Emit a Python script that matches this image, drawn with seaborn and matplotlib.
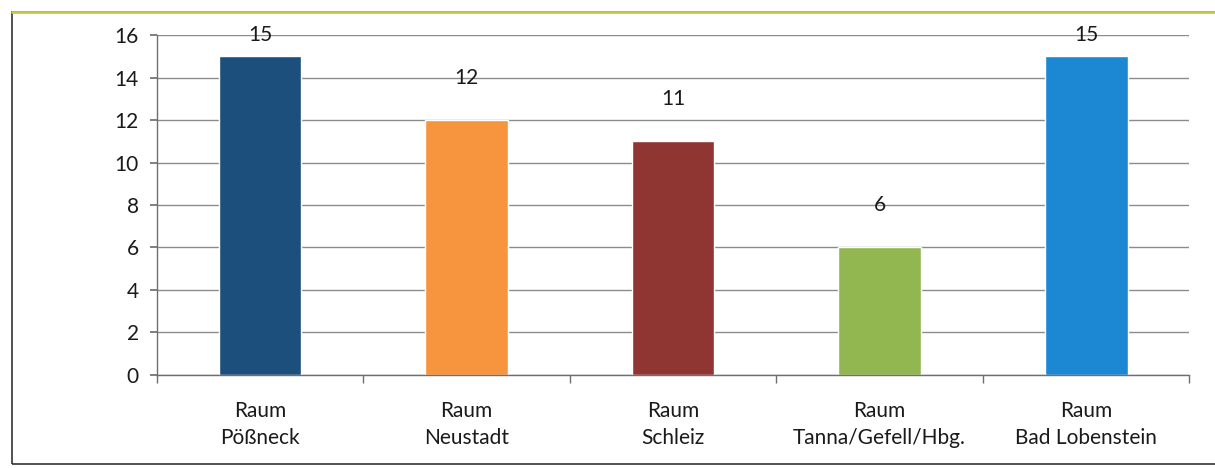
import pandas as pd
import matplotlib.pyplot as plt
import seaborn as sns
from matplotlib.patches import Rectangle

regions = ["Raum\nPößneck", "Raum\nNeustadt", "Raum\nSchleiz",
           "Raum\nTanna/Gefell/Hbg.", "Raum\nBad Lobenstein"]
counts = [15, 12, 11, 6, 15]
colors = ["#1d4f7d", "#f7953f", "#8f3633", "#92b650", "#1c88d4"]

df = pd.DataFrame({"region": regions, "count": counts})

sns.set_theme(style="white")
plt.rcParams["font.family"] = ["Lato", "DejaVu Sans"]

fig = plt.figure(figsize=(12.15, 4.68), dpi=100)
ax = fig.add_axes([0.129, 0.199, 0.850, 0.726])

sns.barplot(data=df, x="region", y="count", hue="region", palette=colors,
            width=0.4, legend=False, ax=ax, saturation=1)

ax.set_ylim(0, 16)
ax.set_xlim(-0.5, len(regions) - 0.5)
ax.set_yticks(range(0, 17, 2))
ax.grid(axis="y", color="#8c8c8c", linewidth=1)
ax.set_axisbelow(True)
ax.set_xlabel("")
ax.set_ylabel("")

for s in ["top", "right"]:
    ax.spines[s].set_visible(False)
for s in ["left", "bottom"]:
    ax.spines[s].set_color("#6f6f6f")
    ax.spines[s].set_linewidth(1)

ax.tick_params(axis="y", left=True, length=5, color="#6f6f6f", labelsize=15,
               labelcolor="#1a1a1a", pad=8)
ax.tick_params(axis="x", bottom=False, labelsize=15, labelcolor="#1a1a1a", pad=13)
for lbl in ax.get_xticklabels():
    lbl.set_linespacing(1.4)
ax.set_xticks([i - 0.5 for i in range(len(regions) + 1)], minor=True)
ax.tick_params(axis="x", which="minor", bottom=True, length=6, color="#6f6f6f")

for i, v in enumerate(counts):
    ax.text(i, min(v + 2, 16), str(v), ha="center", va="center", fontsize=15, color="#1a1a1a")

fig.patches.append(Rectangle((12 / 1215, 4 / 468), 1.1, 452 / 468, transform=fig.transFigure,
                             fill=False, edgecolor="#333333", linewidth=1.2))
fig.lines.append(plt.Line2D([12 / 1215, 1], [1 - 12 / 468] * 2, transform=fig.transFigure,
                            color="#c8c84a", linewidth=2))

fig.savefig("out.png", dpi=100)
plt.close(fig)
